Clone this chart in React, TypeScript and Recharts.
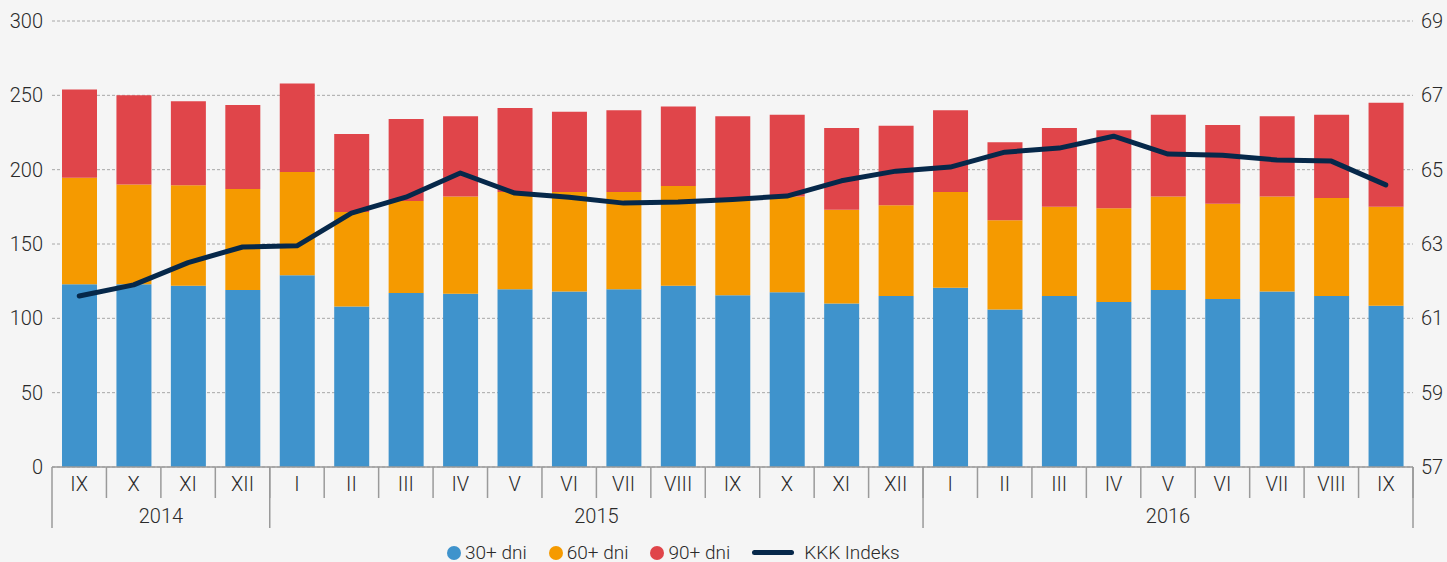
import { ComposedChart, Bar, Line, XAxis, YAxis, CartesianGrid, Legend } from 'recharts';

const months = ['IX', 'X', 'XI', 'XII', 'I', 'II', 'III', 'IV', 'V', 'VI', 'VII', 'VIII', 'IX', 'X', 'XI', 'XII', 'I', 'II', 'III', 'IV', 'V', 'VI', 'VII', 'VIII', 'IX'];
const years = ['2014', '2014', '2014', '2014', '2015', '2015', '2015', '2015', '2015', '2015', '2015', '2015', '2015', '2015', '2015', '2015', '2016', '2016', '2016', '2016', '2016', '2016', '2016', '2016', '2016'];

const d30 = [123, 123, 122, 119, 129, 108, 117, 116.5, 119.5, 118, 119.5, 122, 115.5, 117.5, 110, 115, 120.5, 106, 115, 111, 119, 113, 118, 115, 108.5];
const d60 = [71.5, 67, 67.5, 68, 69.5, 63.5, 62, 65.5, 65.5, 67, 65.5, 67, 65.5, 64.5, 63, 61, 64.5, 60, 60, 63, 63, 64, 64, 66, 66.5];
const d90 = [59.5, 60, 56.5, 56.5, 59.5, 52.5, 55, 54, 56.5, 54, 55, 53.5, 55, 55, 55, 53.5, 55, 52.5, 53, 52.5, 55, 53, 54, 56, 70];
const kkk = [61.6, 61.9, 62.5, 62.92, 62.95, 63.83, 64.26, 64.91, 64.37, 64.26, 64.1, 64.13, 64.2, 64.29, 64.7, 64.96, 65.07, 65.47, 65.58, 65.9, 65.42, 65.39, 65.26, 65.23, 64.59];

const leftTicks = [0, 50, 100, 150, 200, 250, 300];
const rightTicks = [57, 59, 61, 63, 65, 67, 69];

const BLUE = '#3f93cc';
const ORANGE = '#f59a00';
const RED = '#e0454a';
const NAVY = '#06284a';
const AXIS = '#9a9a9a';
const TEXT = '#2a2a2a';

const W = 1447;
const H = 562;
const LEFT_W = 52;
const RIGHT_W = 34;
const HALF_BAND = (W - LEFT_W - RIGHT_W) / months.length / 2;

const data = months.map((m, i) => ({
  month: m,
  year: years[i],
  d30: d30[i],
  d60: d60[i],
  d90: d90[i],
  kkk: kkk[i],
}));

function MonthTick({ x, y, payload }: any) {
  const half = payload?.offset || HALF_BAND;
  return (
    <g>
      <line x1={x + half} x2={x + half} y1={y} y2={y + 31} stroke={AXIS} strokeWidth={1.5} />
      <text x={x} y={y + 17} textAnchor="middle" dominantBaseline="central" fill={TEXT} fontSize={20} fontWeight={300}>
        {payload.value}
      </text>
    </g>
  );
}

function YearTick({ x, y, payload, index }: any) {
  const half = payload?.offset || HALF_BAND;
  const i = index;
  const isFirst = i === 0 || years[i - 1] !== years[i];
  const isLast = i === years.length - 1;
  // bounds of this year's group, label goes in its middle
  let a = i;
  while (a > 0 && years[a - 1] === years[i]) a--;
  let b = i;
  while (b < years.length - 1 && years[b + 1] === years[i]) b++;
  const mid = (a + b) / 2;
  const showLabel = Math.floor(mid) === i;
  const lx = x + (mid - i) * half * 2;
  return (
    <g>
      {isFirst && <line x1={x - half} x2={x - half} y1={y - 31} y2={y + 30} stroke={AXIS} strokeWidth={1.5} />}
      {isLast && <line x1={x + half} x2={x + half} y1={y - 31} y2={y + 30} stroke={AXIS} strokeWidth={1.5} />}
      {showLabel && (
        <text x={lx} y={y + 18} textAnchor="middle" dominantBaseline="central" fill={TEXT} fontSize={20} fontWeight={300}>
          {payload.value}
        </text>
      )}
    </g>
  );
}

function LegendContent() {
  const items = [
    { label: '30+ dni', color: BLUE },
    { label: '60+ dni', color: ORANGE },
    { label: '90+ dni', color: RED },
  ];
  return (
    <div
      style={{
        display: 'flex',
        alignItems: 'center',
        height: 34,
        boxSizing: 'border-box',
        paddingTop: 15,
        paddingLeft: 447,
        fontSize: 19,
        fontWeight: 300,
        color: TEXT,
      }}
    >
      {items.map((it) => (
        <div key={it.label} style={{ display: 'flex', alignItems: 'center', marginRight: 22 }}>
          <span style={{ width: 14, height: 14, borderRadius: '50%', background: it.color, marginRight: 4 }} />
          <span>{it.label}</span>
        </div>
      ))}
      <div style={{ display: 'flex', alignItems: 'center' }}>
        <span style={{ width: 42, height: 5, borderRadius: 3, background: NAVY, marginRight: 10 }} />
        <span>KKK Indeks</span>
      </div>
    </div>
  );
}

export default function App() {
  return (
    <div
      style={{
        position: 'absolute',
        left: 0,
        top: 0,
        width: W,
        height: H,
        background: '#f5f5f5',
        fontFamily: "'Roboto', sans-serif",
      }}
    >
      <ComposedChart width={W} height={H} data={data} margin={{ top: 21, right: 0, bottom: 0, left: 0 }}>
        <CartesianGrid yAxisId="left" vertical={false} stroke="#a8a8a8" strokeDasharray="3 2" />
        <XAxis
          dataKey="month"
          height={31}
          interval={0}
          tickSize={0}
          tickMargin={0}
          axisLine={{ stroke: AXIS, strokeWidth: 1.5 }}
          tickLine={false}
          tick={<MonthTick />}
        />
        <XAxis
          dataKey="year"
          xAxisId="year"
          height={30}
          interval={0}
          tickSize={0}
          tickMargin={0}
          axisLine={false}
          tickLine={false}
          tick={<YearTick />}
        />
        <YAxis
          yAxisId="left"
          width={LEFT_W}
          domain={[0, 300]}
          ticks={leftTicks}
          axisLine={false}
          tickLine={false}
          tickSize={0}
          tickMargin={9}
          tick={{ fill: TEXT, fontSize: 20, fontWeight: 300 }}
        />
        <YAxis
          yAxisId="right"
          orientation="right"
          width={RIGHT_W}
          domain={[57, 69]}
          ticks={rightTicks}
          axisLine={false}
          tickLine={false}
          tickSize={0}
          tickMargin={8}
          tick={{ fill: TEXT, fontSize: 20, fontWeight: 300, textAnchor: 'start' }}
        />
        <Legend verticalAlign="bottom" height={34} wrapperStyle={{ height: 34 }} content={<LegendContent />} />
        <Bar yAxisId="left" dataKey="d30" name="30+ dni" stackId="a" fill={BLUE} barSize={35} isAnimationActive={false} />
        <Bar yAxisId="left" dataKey="d60" name="60+ dni" stackId="a" fill={ORANGE} barSize={35} isAnimationActive={false} />
        <Bar yAxisId="left" dataKey="d90" name="90+ dni" stackId="a" fill={RED} barSize={35} isAnimationActive={false} />
        <Line
          yAxisId="right"
          type="linear"
          dataKey="kkk"
          name="KKK Indeks"
          stroke={NAVY}
          strokeWidth={5}
          strokeLinecap="round"
          strokeLinejoin="round"
          dot={false}
          activeDot={false}
          isAnimationActive={false}
        />
      </ComposedChart>
    </div>
  );
}
